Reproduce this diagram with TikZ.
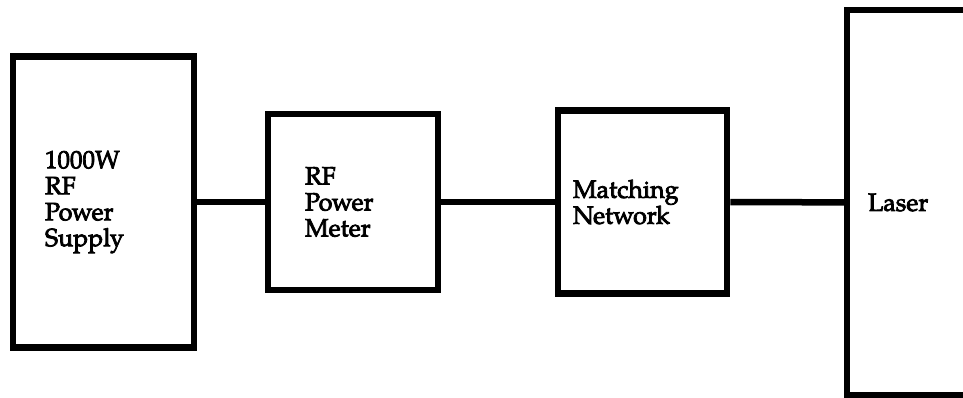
\documentclass[tikz,border=0pt]{standalone}
\usepackage{fontspec}
\setmainfont{TeX Gyre Pagella}[FakeBold=3]
\usepackage{tikz}

\begin{document}
\begin{tikzpicture}[x=1pt, y=-1pt,
    blockbox/.style={draw, line width=6.5pt, inner sep=0pt, align=left,
        font=\fontsize{25}{26}\selectfont},
    wire/.style={line width=6.5pt}]
    \useasboundingbox (0,0) rectangle (963,398);
    \clip (0,0) rectangle (963,398);

    % Source
    \node[blockbox, minimum width=181pt, minimum height=291pt, text width=117pt] (supply) at (103.5,202) {1000W\\RF\\Power\\Supply};

    % Meter and matching
    \node[blockbox, minimum width=170pt, minimum height=176pt, text width=96pt] (meter) at (353,202) {RF\\Power\\Meter};
    \node[blockbox, minimum width=169pt, minimum height=183pt, text width=139pt] (match) at (642.5,202) {Matching\\Network};

    % Load (runs off the right edge)
    \node[blockbox, minimum width=230pt, minimum height=385pt, text width=188pt] (laser) at (962,202.5) {Laser};

    % Connections
    \draw[wire] (supply) -- (meter);
    \draw[wire] (meter) -- (match);
    \draw[wire] (match) -- (laser);
\end{tikzpicture}
\end{document}
